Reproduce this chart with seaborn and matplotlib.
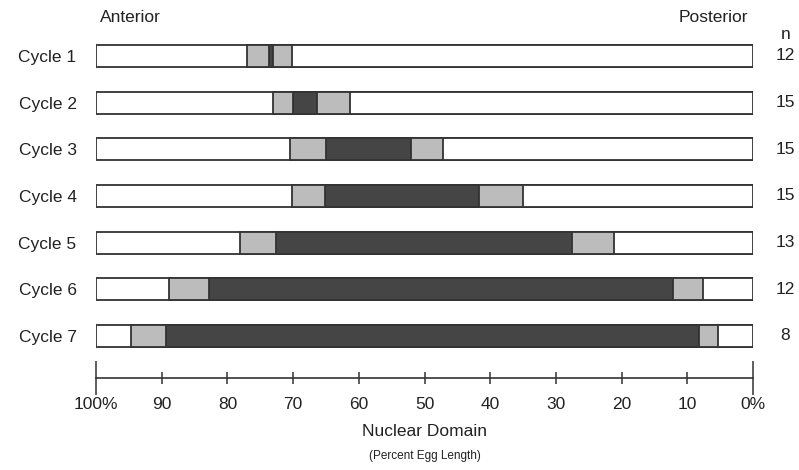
import matplotlib
matplotlib.use('Agg')
import matplotlib.pyplot as plt
import matplotlib.transforms as mtransforms
import pandas as pd
import seaborn as sns

sns.set_style('white')
plt.rcParams['font.family'] = ['Liberation Sans', 'DejaVu Sans']

# Nuclear domain per cycle, in percent egg length (100 = anterior, 0 = posterior)
cycles = ['Cycle 1', 'Cycle 2', 'Cycle 3', 'Cycle 4', 'Cycle 5', 'Cycle 6', 'Cycle 7']
egg_length = [100, 100, 100, 100, 100, 100, 100]
gray_start = [77.0, 73.0, 70.5, 70.1, 78.1, 88.9, 94.6]
dark_start = [73.7, 70.0, 65.0, 65.1, 72.6, 82.8, 89.3]
dark_end = [73.1, 66.3, 52.1, 41.7, 27.5, 12.2, 8.2]
gray_end = [70.2, 61.3, 47.2, 35.0, 21.2, 7.6, 5.4]
n_embryos = [12, 15, 15, 15, 13, 12, 8]
tick_vals = [100, 90, 80, 70, 60, 50, 40, 30, 20, 10, 0]
tick_text = ['100%', '90', '80', '70', '60', '50', '40', '30', '20', '10', '0%']

df = pd.DataFrame({'cycle': cycles, 'egg': egg_length, 'g1': gray_start,
                   'd1': dark_start, 'd2': dark_end, 'g2': gray_end})

fig = plt.figure(figsize=(7.99, 4.70), dpi=100)
ax = fig.add_axes([96 / 799, 92 / 470, 657 / 799, 364 / 470])

# stacked from the posterior end (0%) so each later layer overwrites the earlier one
layers = [('egg', '#ffffff'), ('g1', '#bcbcbc'), ('d1', '#454545'),
          ('d2', '#bcbcbc'), ('g2', '#ffffff')]
for col, color in layers:
    sns.barplot(data=df, x=col, y='cycle', orient='h', color=color, saturation=1,
                edgecolor='#333333', linewidth=1.3, width=0.47, ax=ax)

ax.set_xlim(100, 0)
ax.set_ylim(6.9, -0.9)
for s in ['top', 'left', 'right']:
    ax.spines[s].set_visible(False)
ax.spines['bottom'].set_color('#333333')
ax.spines['bottom'].set_linewidth(1.2)

ax.set_ylabel('')
ax.tick_params(axis='y', length=0, pad=14, labelsize=12.5, labelcolor='#222222')
ax.set_xticks(tick_vals)
ax.set_xticklabels(tick_text)
ax.tick_params(axis='x', bottom=True, direction='inout', length=8, width=1.1,
               color='#333333', pad=10, labelsize=12.5, labelcolor='#222222')
ax.set_xlabel('Nuclear Domain', fontsize=12.5, color='#222222', labelpad=8)

# longer end ticks at 100% and 0%
xt = ax.xaxis.get_major_ticks()
for t in (xt[0], xt[-1]):
    t.tick1line.set_markersize(24)

fig.text(0.5 * (96 + 753) / 799, 1 - 456 / 470, '(Percent Egg Length)', ha='center',
         va='center', fontsize=8.5, color='#222222')

ax.text(99.4, -0.83, 'Anterior', ha='left', va='center', fontsize=12.5, color='#222222')
ax.text(0.7, -0.83, 'Posterior', ha='right', va='center', fontsize=12.5, color='#222222')

tr = mtransforms.blended_transform_factory(ax.transAxes, ax.transData)
ax.text(1.049, -0.45, 'n', ha='center', va='center', fontsize=12.5,
        color='#222222', transform=tr)
for i, n in enumerate(n_embryos):
    ax.text(1.049, i, str(n), ha='center', va='center', fontsize=12.5,
            color='#222222', transform=tr)

fig.savefig('out.png', dpi=100)
